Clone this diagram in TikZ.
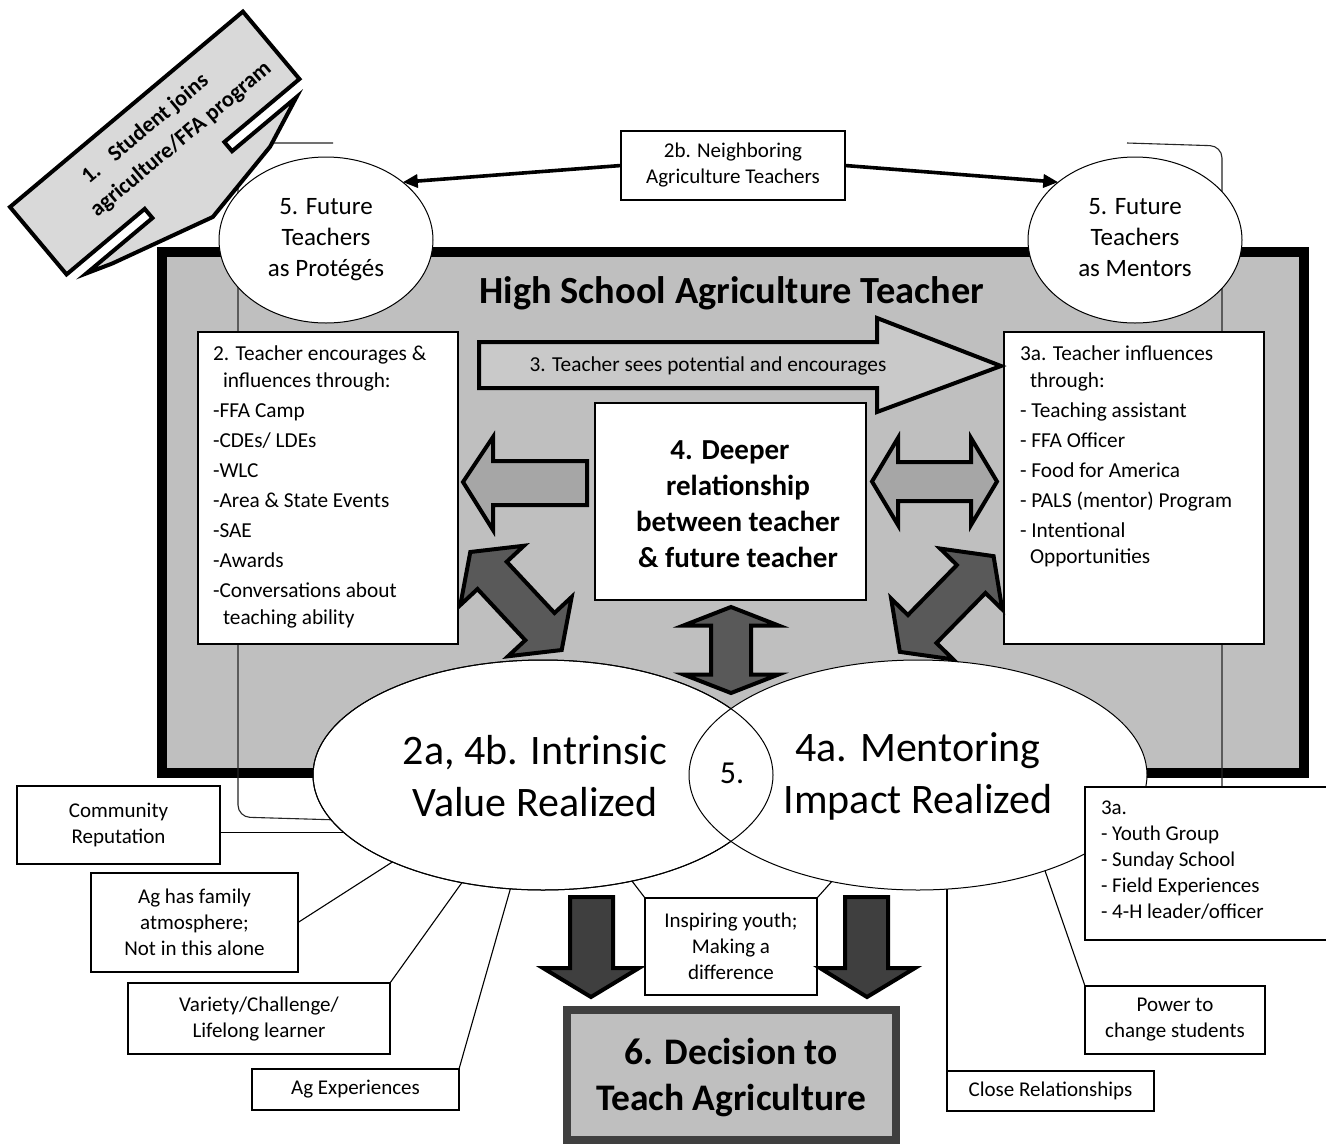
\documentclass[tikz,border=0pt]{standalone}
\usepackage{fontspec}
\setmainfont{Carlito}
\usetikzlibrary{shapes.geometric,arrows.meta}

\definecolor{panelgray}{HTML}{BFBFBF}
\definecolor{calloutgray}{HTML}{D9D9D9}
\definecolor{lightarrow}{HTML}{C9C9C9}
\definecolor{midarrow}{HTML}{A6A6A6}
\definecolor{darkarrow}{HTML}{595959}
\definecolor{deeparrow}{HTML}{3F3F3F}

\newcommand\fsz[2]{\fontsize{#1}{#2}\selectfont}

\tikzset{
  every node/.style={inner sep=0pt, outer sep=0pt},
  thinbox/.style={draw=black, line width=1.1pt, fill=white, align=center, font=\fsz{21}{26}},
  bodytext/.style={align=left, font=\fsz{21.3}{30}, anchor=north west},
  oval/.style={ellipse, draw=black, line width=1pt, fill=white, align=center},
  blockline/.style={draw=black, line width=4pt, line join=miter},
  bracket/.style={draw=black!85, line width=1.1pt, rounded corners=12pt},
  feeder/.style={draw=black, line width=1.1pt},
  pointer/.style={draw=black, line width=3.6pt, -{Triangle[length=15pt,width=13pt]}},
  pics/dblarrow/.style n args={5}{code={
    \filldraw[blockline, fill=#5] (-#1,0) -- (-#1+#2,-#3) -- (-#1+#2,-#4) -- (#1-#2,-#4)
      -- (#1-#2,-#3) -- (#1,0) -- (#1-#2,#3) -- (#1-#2,#4) -- (-#1+#2,#4) -- (-#1+#2,#3) -- cycle;
  }},
}

\begin{document}
\begin{tikzpicture}[x=1pt,y=-1pt]
\useasboundingbox (0,0) rectangle (1326,1144);
\fill[white] (0,0) rectangle (1326,1144);

% teacher panel
\node[draw=black, line width=10pt, fill=panelgray, minimum width=1142, minimum height=521] (panel) at (733,512.5) {};
\node[font=\bfseries\fsz{38.4}{42}] (title) at (732,293) {High School Agriculture Teacher};

% long brackets behind the boxes
\draw[bracket] (333,143) -- (238,143) -- (238,817) -- (340,820);
\draw[bracket] (1127,143) -- (1222,146) -- (1222,787);

% step 1 callout: tilted box with a wedge tail whose arms run along its lower edge
\begin{scope}[shift={(10,207)}, rotate=40]
  \filldraw[fill=calloutgray, draw=black, line width=4pt, line join=miter]
    (0,0) -- (304,0) -- (304,88) -- (206,88) -- (206,100) -- (290,100) -- (238,121)
    -- (149,138) -- (42,109) -- (16,100) -- (102,100) -- (102,88) -- (0,88) -- cycle;
  \node[rotate=40, anchor=west, align=left, font=\bfseries\fsz{22.5}{31}] (joins) at (60,43)
    {\hspace*{15pt}1.\hspace{17pt}Student joins\\agriculture/FFA program};
\end{scope}

% future teacher ovals
\node[oval, minimum width=214, minimum height=166, font=\fsz{25}{31}] (protege) at (326,240) {5. Future\\Teachers\\as Protégés};
\node[oval, minimum width=214, minimum height=166, font=\fsz{25}{31}] (mentor) at (1135,240) {5. Future\\Teachers\\as Mentors\rule[-6pt]{0pt}{6pt}};

\node[thinbox, minimum width=224, minimum height=69] (nb) at (733,165.5) {2b. Neighboring\\Agriculture Teachers};
\draw[pointer] (nb.west) -- (protege.37);
\draw[pointer] (nb.east) -- (mentor.143);

% inner boxes
\node[thinbox, minimum width=260, minimum height=312] (lbox) at (328,488) {};
\node[bodytext] (ltext) at (213,346) {2. Teacher encourages \&\\[-3.5pt]
  \hspace*{10pt}influences through:\\
  -FFA Camp\\
  -CDEs/ LDEs\\
  -WLC\\
  -Area \& State Events\\
  -SAE\\
  -Awards\\
  -Conversations about\\[-3pt]
  \hspace*{10pt}teaching ability};

\node[thinbox, minimum width=260, minimum height=312] (rbox) at (1134,488) {};
\node[bodytext] (rtext) at (1020,346) {3a. Teacher influences\\[-3.5pt]
  \hspace*{10pt}through:\\
  - Teaching assistant\\
  - FFA Officer\\
  - Food for America\\
  - PALS (mentor) Program\\
  - Intentional\\[-4pt]
  \hspace*{10pt}Opportunities};

\node[thinbox, minimum width=271, minimum height=197] (cbox) at (730.5,501.5) {};
\node[font=\bfseries\fsz{29}{36}, align=center] (ctext) at (738,504) {4. Deeper\hspace*{16pt}\\relationship\\between teacher\\\& future teacher};

% block arrows inside the panel
\filldraw[blockline, fill=lightarrow] (479,342) -- (877,342) -- (877,318) -- (1001,366) -- (877,412) -- (877,388) -- (479,388) -- cycle;
\node[font=\fsz{21.3}{24}] (sees) at (708,366) {3. Teacher sees potential and encourages};
\filldraw[blockline, fill=midarrow] (463,482) -- (493,437) -- (493,461) -- (587,461) -- (587,505) -- (493,505) -- (493,530) -- cycle;
\pic at (934.5,481.5) {dblarrow={62.5}{26}{43.5}{19.5}{midarrow}};

% outcome ovals
\node[oval, minimum width=460, minimum height=230] (intr) at (543,775) {};
\node[oval, minimum width=458, minimum height=230] (ment) at (918,775) {};
\draw[line width=1pt] (intr.center) ellipse [x radius=230pt, y radius=115pt];
\node[font=\fsz{42}{52}, align=center] (intrtext) at (535,776) {2a, 4b. Intrinsic\\Value Realized};
\node[font=\fsz{42}{52}, align=center] (menttext) at (918,776) {4a. Mentoring\\Impact Realized};
\node[font=\fsz{32}{36}] (lens) at (732,773) {5.};

% factor boxes
\node[thinbox, minimum width=203, minimum height=78] (comm) at (118.5,825) {Community\\Reputation};
\node[thinbox, minimum width=207, minimum height=99] (family) at (194.5,922.5) {Ag has family\\atmosphere;\\Not in this alone};
\node[thinbox, minimum width=262, minimum height=71] (variety) at (259,1018.5) {Variety/Challenge/\\Lifelong learner};
\node[thinbox, minimum width=207, minimum height=41] (agexp) at (355.5,1089.5) {Ag Experiences};
\node[thinbox, minimum width=172, minimum height=97] (inspire) at (731,946.5) {Inspiring youth;\\Making a\\difference};
\node[thinbox, minimum width=207, minimum height=40] (close) at (1050.5,1091) {Close Relationships};
\node[thinbox, minimum width=180, minimum height=68] (power) at (1175,1020) {Power to\\change students};

\draw[feeder] (intr.196 -| comm.east) -- (intr.196);
\draw[feeder] (family.east) -- (intr.210);
\draw[feeder] (variety.north east) -- (intr.233);
\draw[feeder] (agexp.north east) -- (intr.254);
\draw[feeder] (inspire.north west) -- (intr.310);
\draw[feeder] (inspire.north east) -- (ment.231);
\draw[feeder] (close.north west) -- (close.north west |- ment.284);
\draw[feeder] (power.north west) -- (ment.323);

\node[draw=black, line width=1.1pt, fill=white, minimum width=255, minimum height=153, anchor=north west] (ybox) at (1085,787) {};
\node[align=left, font=\fsz{21}{26}, anchor=north west] (ytext) at (1101,801) {3a.\\- Youth Group\\- Sunday School\\- Field Experiences\\- 4-H leader/officer};

% two-way arrows
\pic[rotate=-47] at (516,601) {dblarrow={67}{32}{43.5}{20}{darkarrow}};
\pic[rotate=45.6] at (946.7,604) {dblarrow={67}{32}{43.5}{20}{darkarrow}};
\pic[rotate=90] at (731,650) {dblarrow={43}{18.5}{47.5}{20}{darkarrow}};

% arrows into the decision
\filldraw[blockline, fill=deeparrow] (570,897) -- (613,897) -- (613,968) -- (639,968) -- (591,997) -- (543,968) -- (570,968) -- cycle;
\filldraw[blockline, fill=deeparrow] (845,897) -- (888,897) -- (888,968) -- (915,968) -- (867,997) -- (820,968) -- (845,968) -- cycle;

\node[draw=deeparrow, line width=8pt, fill=panelgray, minimum width=329, minimum height=130] (decide) at (731.5,1075) {};
\node[font=\bfseries\fsz{37.5}{46}, align=center] (decidetext) at (731,1078) {6. Decision to\\Teach Agriculture};
\end{tikzpicture}
\end{document}
